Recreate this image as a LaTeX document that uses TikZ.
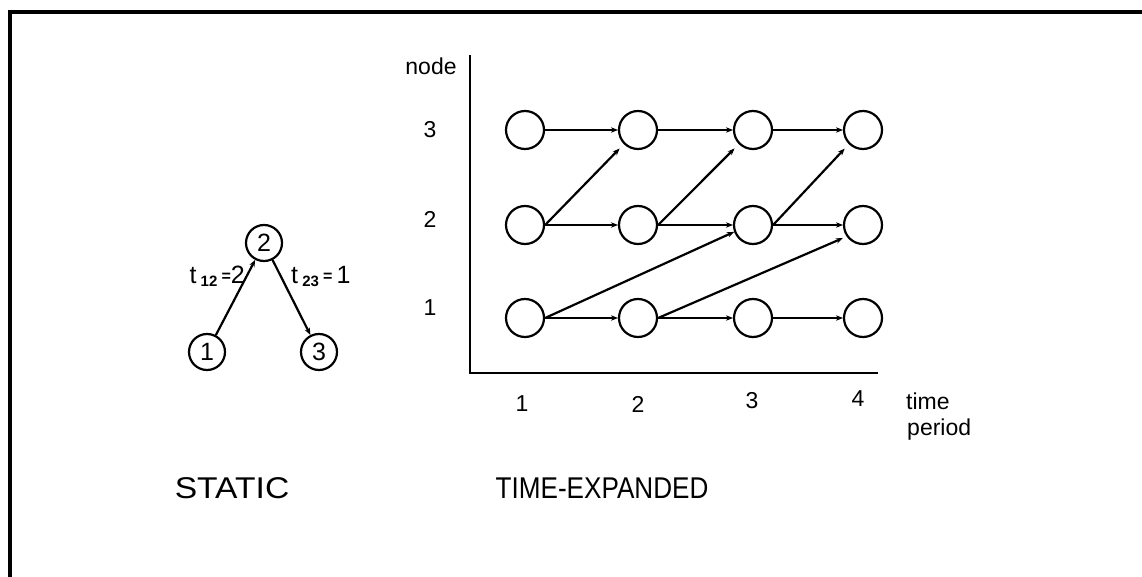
\documentclass[tikz,border=0pt]{standalone}
\usepackage{fontspec}
\setmainfont{Liberation Sans}
\usetikzlibrary{arrows.meta}
\tikzset{
  vtx/.style={circle,draw,line width=2.2pt,minimum size=38pt,inner sep=0pt},
  svtx/.style={circle,draw,line width=2.2pt,minimum size=36pt,inner sep=0pt,font=\fontsize{25}{25}\selectfont},
  arc/.style={line width=2.2pt,-{Stealth[length=7pt,width=5.5pt]}},
  lbl/.style={font=\fontsize{23}{23}\selectfont,inner sep=0pt},
  big/.style={font=\fontsize{30}{30}\selectfont,inner sep=0pt},
}
\newcommand{\tlab}[3]{t\,\raisebox{-3pt}{\fontsize{15}{15}\selectfont\bfseries #1}\,\raisebox{2pt}{\fontsize{16}{16}\selectfont\bfseries =}#2#3}
\begin{document}
\begin{tikzpicture}[x=1pt,y=-1pt]
\useasboundingbox (0,0) rectangle (1142,577);
% frame
\draw[line width=4pt] (10,590) -- (10,12.5) -- (1150,12.5);
% static graph
\node[svtx] (s2) at (264,243) {2};
\node[svtx] (s1) at (207,352) {1};
\node[svtx] (s3) at (319,352) {3};
\draw[arc] (s1) -- (s2);
\draw[arc] (s2) -- (s3);
\node[lbl,anchor=east,font=\fontsize{25}{25}\selectfont] (l12) at (245,276) {\tlab{12}{}{2}};
\node[lbl,anchor=west,font=\fontsize{25}{25}\selectfont] (l23) at (291,276) {\tlab{23}{\,}{1}};
% axes
\coordinate (ytop) at (470,55);
\coordinate (orig) at (470,373);
\coordinate (xend) at (878,373);
\draw[line width=2.4pt] (ytop) -- (orig) -- (xend);
\node[lbl] (ny) at (431,66) {node};
\node[lbl] (n3) at (430,130) {3};
\node[lbl] (n2) at (430,219) {2};
\node[lbl] (n1) at (430,308) {1};
\node[lbl] (t1) at (522,404) {1};
\node[lbl] (t2) at (638,404) {2};
\node[lbl] (t3) at (752,401) {3};
\node[lbl] (t4) at (858,399) {4};
\node[lbl,anchor=west] (tm) at (906,401) {time};
\node[lbl,anchor=west] (pd) at (907,430) {period};
% time-expanded nodes
\foreach \c/\x in {1/525,2/638,3/753,4/863}{
  \node[vtx] (a\c) at (\x,318) {};
  \node[vtx] (b\c) at (\x,225) {};
  \node[vtx] (c\c) at (\x,130) {};
}
\foreach \r in {a,b,c}{
  \draw[arc] (\r1) -- (\r2);
  \draw[arc] (\r2) -- (\r3);
  \draw[arc] (\r3) -- (\r4);
}
\draw[arc,shorten >=6pt] (b1.east) -- (c2.225);
\draw[arc,shorten >=6pt] (b2.east) -- (c3.225);
\draw[arc,shorten >=6pt] (b3.east) -- (c4.225);
\draw[arc] (a1.east) -- (b3.200);
\draw[arc,shorten >=4pt] (a2.east) -- (b4.215);
% titles
\node[big] (st) at (232,488) {\scalebox{1.12}[1]{STATIC}};
\node[big] (te) at (602,488) {\scalebox{0.87}[1]{TIME-EXPANDED}};
\end{tikzpicture}
\end{document}
